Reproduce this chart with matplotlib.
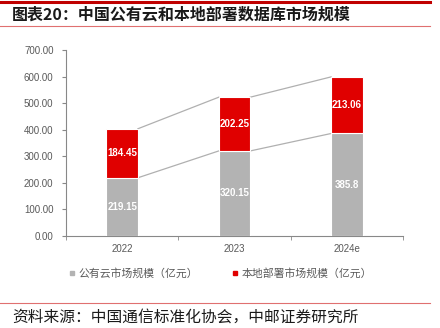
import numpy as np
import matplotlib
matplotlib.use("Agg")
from matplotlib import pyplot as plt
from matplotlib.lines import Line2D

plt.rcParams['font.family'] = ['Noto Sans CJK SC', 'DejaVu Sans']

# Data.
years = ["2022", "2023", "2024e"]
public_cloud = [219.15, 320.15, 385.8]
on_premise = [184.45, 202.25, 213.06]
y_ticks = [0, 100, 200, 300, 400, 500, 600, 700]

gray = '#b3b3b3'
red = '#e00000'
text_gray = '#595959'
num_font = 'Liberation Sans'

fig = plt.figure(figsize=(4.4, 3.28), dpi=100)
ax = fig.add_axes([66/440, 1 - 236/328, (403 - 66)/440, (236 - 50)/328])

x = np.arange(len(years))
width = 0.28
totals = [a + b for a, b in zip(public_cloud, on_premise)]

ax.bar(x, public_cloud, width, color=gray, edgecolor='white', linewidth=0.8, zorder=3)
ax.bar(x, on_premise, width, bottom=public_cloud, color=red, edgecolor='white',
	linewidth=0.8, zorder=3)

# Connector lines between bar tops.
for i in range(len(years) - 1):
	ax.plot([x[i] + width/2, x[i+1] - width/2], [public_cloud[i], public_cloud[i+1]],
		color='#b0b0b0', linewidth=0.9, zorder=2)
	ax.plot([x[i] + width/2, x[i+1] - width/2], [totals[i], totals[i+1]],
		color='#b0b0b0', linewidth=0.9, zorder=2)

for i in range(len(years)):
	ax.text(x[i], public_cloud[i] / 2, f"{public_cloud[i]:g}", ha='center', va='center',
		color='white', fontsize=7, fontweight='bold', family=num_font, zorder=4)
	ax.text(x[i], public_cloud[i] + on_premise[i] / 2, f"{on_premise[i]:g}", ha='center',
		va='center', color='white', fontsize=7, fontweight='bold',
		family=num_font, zorder=4)

ax.set_xlim(-0.5, 2.5)
ax.set_ylim(0, 700)
ax.set_yticks(y_ticks)
ax.set_yticklabels([f"{v:.2f}" for v in y_ticks], fontsize=7, color=text_gray,
	family=num_font)
ax.set_xticks(x)
ax.set_xticklabels(years, fontsize=7, color=text_gray, family=num_font)
ax.set_xticks([-0.5, 0.5, 1.5, 2.5], minor=True)
ax.tick_params(axis='x', which='major', length=0, pad=5.5)
ax.tick_params(axis='x', which='minor', length=3, color='#888888')
ax.tick_params(axis='y', length=3, color='#888888', pad=6)
for side in ['top', 'right']:
	ax.spines[side].set_visible(False)
for side in ['left', 'bottom']:
	ax.spines[side].set_color('#888888')
	ax.spines[side].set_linewidth(0.8)

handles = [Line2D([], [], marker='s', linestyle='', color=gray, markersize=3.5),
	Line2D([], [], marker='s', linestyle='', color=red, markersize=3.5)]
fig.legend(handles, ['公有云市场规模（亿元）', '本地部署市场规模（亿元）'],
	loc='center', bbox_to_anchor=(0.5, 1 - 273/328), ncol=2, frameon=False,
	fontsize=7.8, labelcolor=text_gray, handletextpad=0.2, columnspacing=3.0,
	handlelength=0.8)

# Header and footer decorations.
fig.add_artist(Line2D([0, 430/440], [1 - 2/328, 1 - 2/328], color='#c00000', linewidth=2.2))
fig.add_artist(Line2D([0, 430/440], [1 - 26/328, 1 - 26/328], color='#e07070', linewidth=0.8))
fig.add_artist(Line2D([0, 430/440], [1 - 303/328, 1 - 303/328], color='#e07070', linewidth=0.8))
fig.text(12/440, 1 - 14/328, '图表20：中国公有云和本地部署数据库市场规模', fontsize=11.5,
	fontweight='bold', va='center', ha='left', color='#1a1a1a')
fig.text(12/440, 1 - 317/328, '资料来源：中国通信标准化协会，中邮证券研究所', fontsize=11.3,
	va='center', ha='left', color='#1a1a1a')

fig.savefig('out.png', dpi=100)
